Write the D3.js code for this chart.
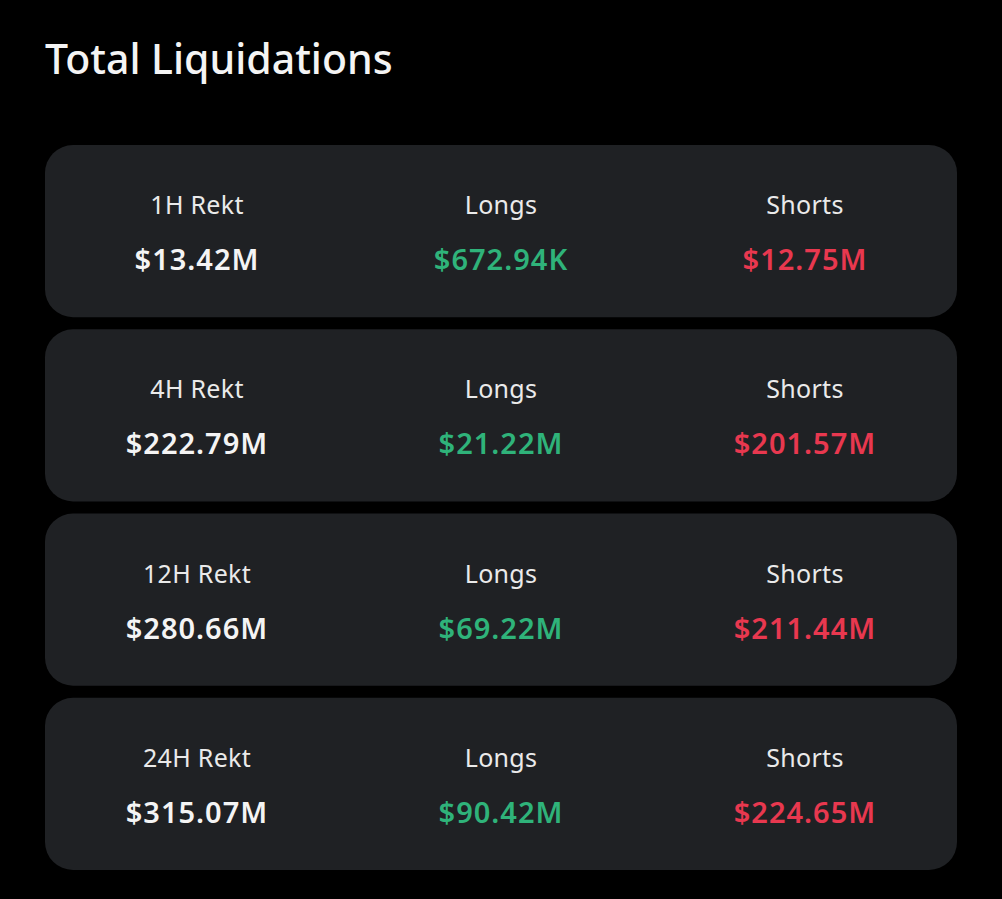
<!DOCTYPE html>
<html>
<head>
<meta charset="utf-8">
<script src="https://cdn.jsdelivr.net/npm/d3@7"></script>
<style>
  html, body { margin: 0; padding: 0; background: #000; }
  svg { display: block; }
</style>
</head>
<body>
<svg id="chart" width="1002" height="899"></svg>
<script>
// data
var periods = ["1H Rekt", "4H Rekt", "12H Rekt", "24H Rekt"];
var totals = ["$13.42M", "$222.79M", "$280.66M", "$315.07M"];
var longs = ["$672.94K", "$21.22M", "$69.22M", "$90.42M"];
var shorts = ["$12.75M", "$201.57M", "$211.44M", "$224.65M"];
var columns = ["total", "Longs", "Shorts"];

var svg = d3.select("#chart");
var margin = { top: 145, right: 45, bottom: 29, left: 45 };
var width = +svg.attr("width") - margin.left - margin.right;
var height = +svg.attr("height") - margin.top - margin.bottom;

svg.append("rect")
    .attr("width", 1002)
    .attr("height", 899)
    .attr("fill", "#000");

// title
svg.append("text")
    .attr("x", 45)
    .attr("y", 74)
    .attr("fill", "#f4f4f4")
    .style("font-family", "'Noto Sans', sans-serif")
    .style("font-size", "41px")
    .style("font-weight", 500)
    .text("Total Liquidations");

var rows = periods.map(function(p, i) {
    return { period: p, total: totals[i], longs: longs[i], shorts: shorts[i] };
});

var y = d3.scaleBand()
    .domain(periods)
    .range([0, height + 12])
    .paddingInner(0.0);

var x = d3.scaleBand()
    .domain(columns)
    .range([0, width]);

var g = svg.append("g")
    .attr("transform", "translate(" + margin.left + "," + margin.top + ")");

var cards = g.selectAll(".card")
    .data(rows)
    .enter()
    .append("g")
    .attr("class", "card")
    .attr("transform", function(d) { return "translate(0," + y(d.period) + ")"; });

var cardH = y.bandwidth() - 12;

cards.append("rect")
    .attr("width", width)
    .attr("height", cardH)
    .attr("rx", 28)
    .attr("ry", 28)
    .attr("fill", "#1f2124");

var cells = cards.selectAll(".cell")
    .data(function(d) {
        return [
            { col: "total", label: d.period, value: d.total, color: "#f4f4f4" },
            { col: "Longs", label: "Longs", value: d.longs, color: "#2fb37a" },
            { col: "Shorts", label: "Shorts", value: d.shorts, color: "#e8384f" }
        ];
    })
    .enter()
    .append("g")
    .attr("class", "cell")
    .attr("transform", function(d) { return "translate(" + (x(d.col) + x.bandwidth() / 2) + ",0)"; });

cells.append("text")
    .attr("y", 69)
    .attr("text-anchor", "middle")
    .attr("fill", "#eaeaea")
    .style("font-family", "'Noto Sans', sans-serif")
    .style("font-size", "25px")
    .style("letter-spacing", "0.3px")
    .text(function(d) { return d.label; });

cells.append("text")
    .attr("y", 125)
    .attr("text-anchor", "middle")
    .attr("fill", function(d) { return d.color; })
    .style("font-family", "'Noto Sans', sans-serif")
    .style("font-size", "29px")
    .style("font-weight", 600)
    .style("letter-spacing", "1px")
    .text(function(d) { return d.value; });
</script>
</body>
</html>
